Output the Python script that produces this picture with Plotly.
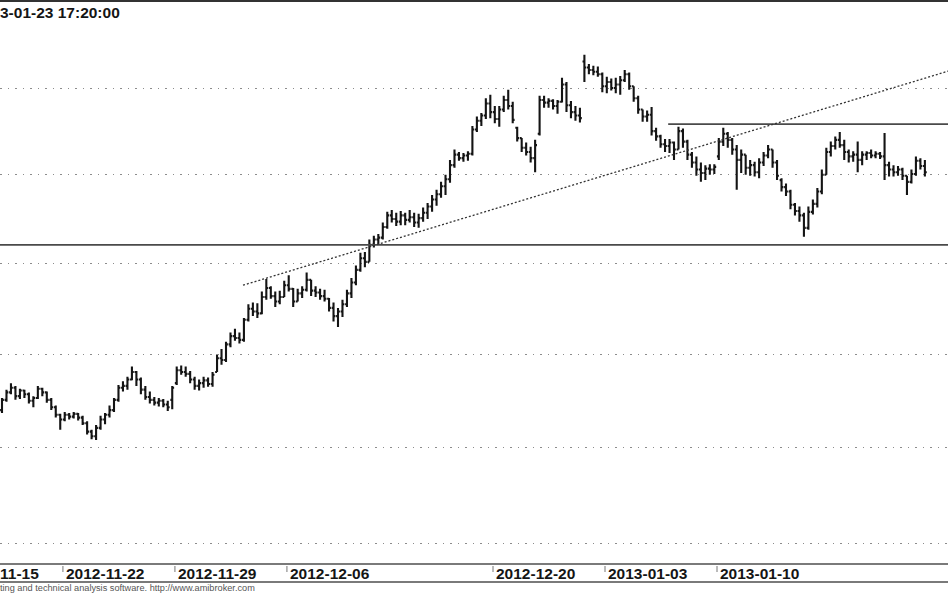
import plotly.graph_objects as go

# ---- data (intraday bars, price units) ----
opens = [41.40,41.51,41.59,41.64,41.55,41.61,41.57,41.50,41.53,41.63,41.59,41.51,41.43,41.35,41.30,41.35,41.33,41.36,41.32,41.26,
41.17,41.12,41.21,41.30,41.35,41.40,41.51,41.64,41.66,41.73,41.81,41.73,41.62,41.54,41.51,41.48,41.50,41.46,41.51,41.69,
41.83,41.81,41.79,41.73,41.66,41.69,41.72,41.68,41.81,41.96,41.94,42.11,42.20,42.18,42.16,42.38,42.50,42.47,42.45,42.63,
42.73,42.64,42.58,42.63,42.76,42.72,42.58,42.67,42.71,42.82,42.70,42.68,42.64,42.61,42.51,42.42,42.47,42.55,42.67,42.79,
42.93,43.06,43.02,43.21,43.27,43.29,43.41,43.54,43.50,43.47,43.54,43.49,43.52,43.46,43.51,43.57,43.64,43.72,43.78,43.87,
43.95,44.11,44.23,44.19,44.22,44.24,44.52,44.62,44.68,44.82,44.72,44.64,44.75,44.86,44.79,44.54,44.42,44.31,44.26,44.19,
44.47,44.86,44.83,44.85,44.79,44.84,45.04,44.80,44.72,44.68,45.31,45.24,45.21,45.19,45.16,45.02,45.07,45.00,45.04,45.09,
45.16,45.02,44.88,44.75,44.67,44.69,44.50,44.44,44.35,44.33,44.37,44.29,44.50,44.38,44.23,44.14,44.06,44.02,44.07,44.06,
44.21,44.38,44.47,44.40,44.29,44.17,44.23,44.08,44.11,44.03,44.14,44.22,44.29,44.14,43.94,43.86,43.81,43.66,43.59,43.54,
43.40,43.58,43.67,43.81,44.00,44.26,44.33,44.40,44.34,44.26,44.21,44.23,44.17,44.23,44.25,44.22,44.24,44.21,44.11,44.06,
44.03,44.06,43.99,43.92,44.01,44.16,44.10]
highs = [41.53,41.62,41.69,41.66,41.63,41.62,41.59,41.55,41.66,41.64,41.60,41.53,41.45,41.36,41.38,41.37,41.38,41.37,41.34,41.28,
41.19,41.24,41.34,41.37,41.45,41.53,41.67,41.71,41.76,41.87,41.82,41.75,41.66,41.60,41.54,41.53,41.52,41.50,41.66,41.87,
41.88,41.87,41.82,41.76,41.73,41.76,41.75,41.81,42.00,42.06,42.14,42.24,42.28,42.24,42.40,42.55,42.57,42.56,42.69,42.83,
42.75,42.69,42.70,42.81,42.87,42.73,42.72,42.75,42.90,42.82,42.75,42.72,42.71,42.62,42.57,42.51,42.60,42.71,42.84,42.98,
43.12,43.13,43.27,43.31,43.33,43.46,43.58,43.60,43.57,43.59,43.57,43.60,43.57,43.56,43.63,43.68,43.77,43.83,43.92,44.00,
44.17,44.29,44.26,44.25,44.27,44.56,44.67,44.71,44.88,44.92,44.79,44.79,44.91,44.98,44.84,44.55,44.42,44.37,44.32,44.40,
44.91,44.91,44.88,44.87,44.86,45.12,45.07,44.85,44.79,44.77,45.39,45.28,45.26,45.25,45.18,45.13,45.11,45.12,45.14,45.21,
45.18,45.02,44.91,44.75,44.74,44.78,44.54,44.46,44.41,44.41,44.38,44.55,44.53,44.40,44.26,44.21,44.14,44.11,44.12,44.12,
44.42,44.54,44.49,44.42,44.34,44.29,44.23,44.17,44.15,44.19,44.26,44.34,44.29,44.17,43.96,43.90,43.83,43.68,43.64,43.57,
43.64,43.72,43.85,44.06,44.31,44.38,44.44,44.49,44.40,44.29,44.27,44.38,44.27,44.27,44.29,44.27,44.26,44.48,44.15,44.11,
44.10,44.08,43.99,44.06,44.21,44.19,44.17]
lows = [41.37,41.49,41.57,41.51,41.52,41.53,41.47,41.43,41.52,41.55,41.48,41.40,41.32,41.19,41.28,41.30,41.31,41.29,41.24,41.14,
41.09,41.08,41.19,41.25,41.32,41.38,41.49,41.60,41.62,41.72,41.66,41.57,41.51,41.47,41.45,41.44,41.43,41.39,41.41,41.67,
41.78,41.76,41.69,41.62,41.61,41.64,41.65,41.65,41.81,41.89,41.92,42.08,42.15,42.12,42.14,42.36,42.42,42.40,42.44,42.60,
42.61,42.52,42.55,42.63,42.69,42.52,42.58,42.62,42.69,42.64,42.63,42.60,42.58,42.47,42.36,42.30,42.41,42.52,42.62,42.76,
42.91,42.96,43.02,43.18,43.21,43.27,43.39,43.46,43.42,43.43,43.43,43.46,43.41,43.40,43.47,43.50,43.58,43.65,43.74,43.77,
43.91,44.08,44.16,44.15,44.16,44.22,44.49,44.56,44.64,44.65,44.59,44.55,44.72,44.75,44.59,44.38,44.26,44.22,44.14,44.03,
44.45,44.77,44.77,44.75,44.70,44.83,44.72,44.65,44.62,44.60,45.07,45.16,45.15,45.13,44.95,44.94,44.97,44.94,44.92,45.07,
44.98,44.84,44.70,44.61,44.61,44.45,44.39,44.31,44.26,44.25,44.17,44.29,44.31,44.17,44.08,43.99,43.92,43.94,44.00,44.01,
44.17,44.33,44.31,44.23,43.83,44.02,44.00,43.99,43.98,43.96,44.10,44.19,44.08,43.94,43.81,43.76,43.61,43.54,43.47,43.30,
43.38,43.55,43.63,43.78,44.00,44.21,44.29,44.31,44.17,44.14,44.15,44.03,44.11,44.17,44.19,44.19,44.18,43.94,43.98,43.98,
43.99,43.94,43.77,43.90,43.99,44.06,43.98]
closes = [41.51,41.59,41.64,41.55,41.61,41.57,41.50,41.53,41.63,41.59,41.51,41.43,41.35,41.30,41.35,41.33,41.36,41.32,41.26,41.17,
41.12,41.21,41.30,41.35,41.40,41.51,41.64,41.66,41.73,41.81,41.73,41.62,41.54,41.51,41.48,41.50,41.46,41.43,41.64,41.83,
41.81,41.79,41.73,41.66,41.69,41.72,41.68,41.78,41.96,41.94,42.11,42.20,42.18,42.16,42.38,42.50,42.47,42.45,42.63,42.73,
42.64,42.58,42.63,42.76,42.72,42.58,42.67,42.71,42.82,42.70,42.68,42.64,42.61,42.51,42.42,42.47,42.55,42.67,42.79,42.93,
43.06,43.02,43.21,43.27,43.29,43.41,43.54,43.50,43.47,43.54,43.49,43.52,43.46,43.51,43.57,43.64,43.72,43.78,43.87,43.95,
44.11,44.23,44.19,44.22,44.24,44.52,44.62,44.68,44.82,44.72,44.64,44.75,44.86,44.79,44.63,44.42,44.31,44.26,44.19,44.34,
44.86,44.83,44.85,44.79,44.84,45.04,44.80,44.72,44.68,44.65,45.24,45.21,45.19,45.16,45.02,45.07,45.00,45.04,45.09,45.16,
45.02,44.88,44.75,44.67,44.69,44.50,44.44,44.35,44.33,44.37,44.29,44.50,44.38,44.23,44.14,44.06,44.02,44.07,44.06,44.09,
44.38,44.47,44.40,44.29,44.17,44.23,44.08,44.11,44.03,44.14,44.22,44.29,44.14,43.99,43.86,43.81,43.66,43.59,43.54,43.40,
43.58,43.67,43.81,44.00,44.26,44.33,44.40,44.34,44.26,44.21,44.23,44.17,44.23,44.25,44.22,44.24,44.21,44.11,44.06,44.03,
44.06,43.99,43.92,44.01,44.16,44.10,44.03]

# date labels: bar index of the first bar of each labelled session
tick_labels = ["2012-11-22", "2012-11-29", "2012-12-06", "2012-12-20", "2013-01-03", "2013-01-10"]
tick_bars = [14, 39, 64, 110, 135, 160]
left_label = "11-15"
title_text = "3-01-23 17:20:00"
footer_text = "ting and technical analysis software. http://www.amibroker.com"

grid_prices = [40, 41, 42, 43, 44, 45]

# drawn study lines (price levels / trendline anchors)
support_level = 43.21
resistance_level = 44.58
resistance_start = 148.7
trend_x = [53.8, 212.0]
trend_y = [42.76, 45.21]

bars = list(range(len(closes)))

W, H = 948, 593
TOP, BOTTOM = 2, 29
plot_h = H - TOP - BOTTOM

def py(px_below_bottom):
    # paper y for a pixel offset below the plot bottom
    return -px_below_bottom / plot_h

LABEL_FONT = dict(family="Liberation Sans, Arial", size=15.5, color="#151515")

fig = go.Figure()

fig.add_trace(go.Scatter(x=[-2, 215], y=[support_level, support_level], mode="lines",
                         line=dict(color="#4a4a4a", width=1.8), hoverinfo="skip", showlegend=False))
fig.add_trace(go.Scatter(x=[resistance_start, 215], y=[resistance_level, resistance_level], mode="lines",
                         line=dict(color="#4a4a4a", width=1.8), hoverinfo="skip", showlegend=False))
fig.add_trace(go.Scatter(x=trend_x, y=trend_y, mode="lines",
                         line=dict(color="#333333", width=1.3, dash="2px,2px"), hoverinfo="skip", showlegend=False))

fig.add_trace(go.Ohlc(x=bars, open=opens, high=highs, low=lows, close=closes,
                      increasing=dict(line=dict(color="#141414", width=2.1)),
                      decreasing=dict(line=dict(color="#141414", width=2.1)),
                      tickwidth=0.42, showlegend=False, hoverinfo="skip"))

shapes = [
    dict(type="line", xref="paper", yref="paper", x0=0, x1=1, y0=1 + 1 / plot_h, y1=1 + 1 / plot_h,
         line=dict(color="#333333", width=2)),
    dict(type="line", xref="paper", yref="paper", x0=0, x1=1, y0=0, y1=0,
         line=dict(color="#7a7a7a", width=2)),
    dict(type="line", xref="paper", yref="paper", x0=0, x1=1, y0=py(18), y1=py(18),
         line=dict(color="#7a7a7a", width=2)),
]
annotations = []
for lab, b in zip(tick_labels, tick_bars):
    shapes.append(dict(type="line", xref="x", yref="paper", x0=b - 0.4, x1=b - 0.4, y0=py(2), y1=py(8),
                       line=dict(color="#777777", width=1)))
    annotations.append(dict(x=b - 0.4, xref="x", y=0, yref="paper", text="<b>" + lab + "</b>", showarrow=False,
                            xanchor="left", yanchor="middle", xshift=1, yshift=-9.5, font=LABEL_FONT))
annotations.append(dict(x=0, xref="paper", y=0, yref="paper", text="<b>" + left_label + "</b>", showarrow=False,
                        xanchor="left", yanchor="middle", xshift=-2, yshift=-9.5, font=LABEL_FONT))
annotations.append(dict(x=0, xref="paper", y=1, yref="paper", text="<b>" + title_text + "</b>", showarrow=False,
                        xanchor="left", yanchor="top", xshift=-2, yshift=0, font=LABEL_FONT))
annotations.append(dict(x=0, xref="paper", y=0, yref="paper", text=footer_text, showarrow=False,
                        xanchor="left", yanchor="middle", xshift=-2, yshift=-24,
                        font=dict(family="Liberation Sans, Arial", size=9.2, color="#555555")))

fig.update_layout(
    width=W, height=H, autosize=False,
    margin=dict(l=0, r=0, t=TOP, b=BOTTOM, pad=0),
    paper_bgcolor="white", plot_bgcolor="white",
    showlegend=False,
    shapes=shapes, annotations=annotations,
    xaxis=dict(range=[-0.446, 211.16], showgrid=False, zeroline=False, showticklabels=False,
               ticks="", showline=False, rangeslider=dict(visible=False), fixedrange=True),
    yaxis=dict(type="log", range=[1.599699, 1.662881], tickvals=grid_prices, showticklabels=False,
               ticks="", showgrid=True, gridcolor="#8c8c8c", gridwidth=1.4, griddash="1.5px,6px",
               zeroline=False, showline=False, fixedrange=True),
)

fig.write_html("out.html", config={"displayModeBar": False},
               post_script="document.body.style.margin='0';")
